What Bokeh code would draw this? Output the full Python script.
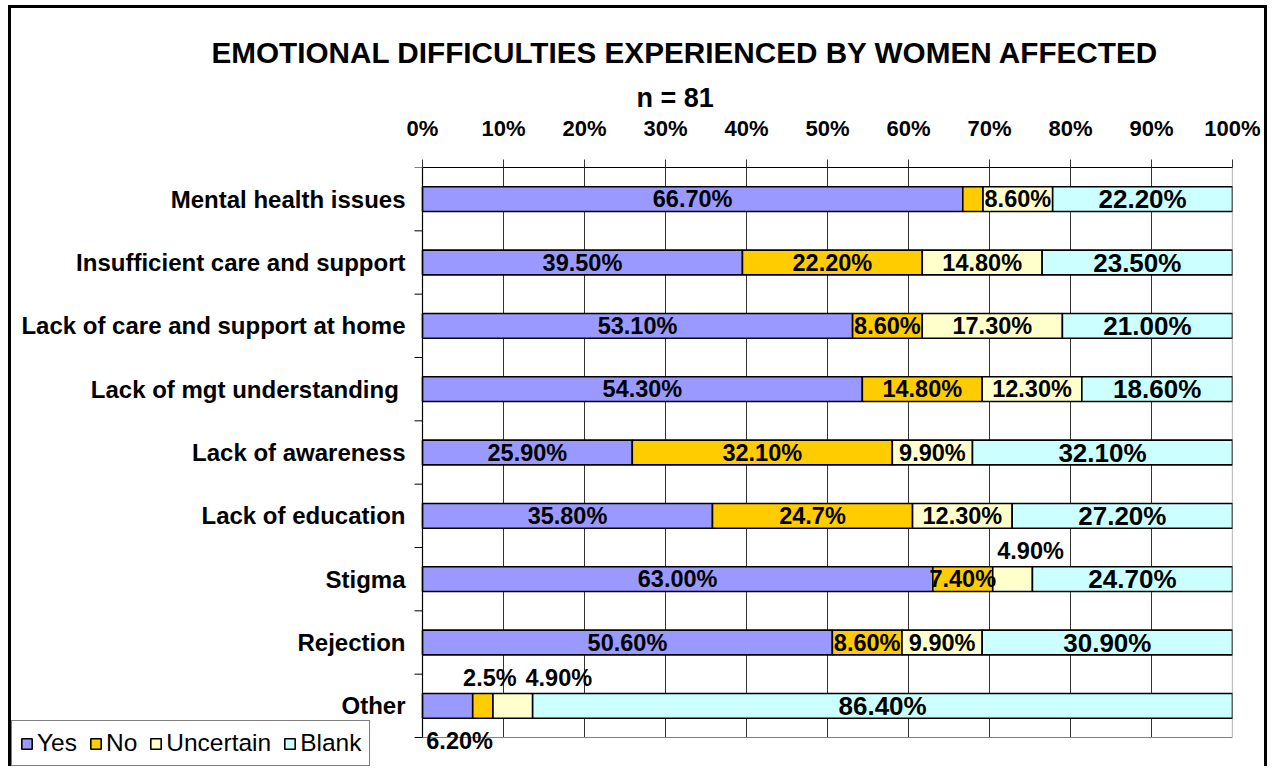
import math
from bokeh.plotting import figure
from bokeh.models import ColumnDataSource, Range1d, FixedTicker, Title, LabelSet, Legend, LegendItem
from bokeh.core.properties import value
from bokeh.embed import file_html
from bokeh.resources import INLINE

# ---------------- data ----------------
categories = ["Mental health issues", "Insufficient care and support",
              "Lack of care and support at home", "Lack of mgt understanding ",
              "Lack of awareness", "Lack of education", "Stigma", "Rejection", "Other"]
series_names = ["Yes", "No", "Uncertain", "Blank"]
yes = [66.7, 39.5, 53.1, 54.3, 25.9, 35.8, 63.0, 50.6, 6.2]
no = [2.5, 22.2, 8.6, 14.8, 32.1, 24.7, 7.4, 8.6, 2.5]
uncertain = [8.6, 14.8, 17.3, 12.3, 9.9, 12.3, 4.9, 9.9, 4.9]
blank = [22.2, 23.5, 21.0, 18.6, 32.1, 27.2, 24.7, 30.9, 86.4]
yes_labels = ["66.70%", "39.50%", "53.10%", "54.30%", "25.90%", "35.80%", "63.00%", "50.60%", "6.20%"]
no_labels = ["", "22.20%", "8.60%", "14.80%", "32.10%", "24.7%", "7.40%", "8.60%", "2.5%"]
uncertain_labels = ["8.60%", "14.80%", "17.30%", "12.30%", "9.90%", "12.30%", "4.90%", "9.90%", "4.90%"]
blank_labels = ["22.20%", "23.50%", "21.00%", "18.60%", "32.10%", "27.20%", "24.70%", "30.90%", "86.40%"]
x_ticks = [0, 10, 20, 30, 40, 50, 60, 70, 80, 90, 100]
x_tick_labels = ["0%", "10%", "20%", "30%", "40%", "50%", "60%", "70%", "80%", "90%", "100%"]
title_text = "EMOTIONAL DIFFICULTIES EXPERIENCED BY WOMEN AFFECTED"
subtitle_text = "n = 81"

# ---------------- styles / layout ----------------
colors = {"Yes": "#9999FF", "No": "#FFCC00", "Uncertain": "#FFFFCC", "Blank": "#CCFFFF"}
FONT = "Liberation Sans"
CANVAS_W, CANVAS_H = 1259, 761
AXIS_GAP_PX = 411        # from canvas left to the 0% line
PLOT_W_PX = 810          # width of the 0..100% area
PLOT_H_PX = 570          # height of the category area
BELOW_PX = 32            # room below the category area (legend, labels)
label_shift = {("Stigma", "Uncertain"): (18, 28),
               ("Other", "Yes"): (12, -35),
               ("Other", "No"): (7, 28),
               ("Other", "Uncertain"): (46, 28)}

n = len(categories)
ys = [n - 1 - i for i in range(n)]
values = {"Yes": yes, "No": no, "Uncertain": uncertain, "Blank": blank}
labels = {"Yes": yes_labels, "No": no_labels, "Uncertain": uncertain_labels, "Blank": blank_labels}

x0 = x_ticks[0]
x1 = x_ticks[-1]
x_start = x0 - (x1 - x0) * AXIS_GAP_PX / PLOT_W_PX
y_lo = -0.5
y_hi = n - 0.5
y_start = y_lo - n * BELOW_PX / PLOT_H_PX

p = figure(width=CANVAS_W, height=CANVAS_H, x_range=Range1d(x_start, x1),
           y_range=Range1d(y_start, y_hi),
           x_axis_location="above", y_axis_location=None,
           output_backend="svg", toolbar_location=None, title_location=None,
           min_border_left=0, min_border_right=38, min_border_top=159, min_border_bottom=0)
p.styles = {"margin": "5px 0px 0px 8px",
            "border-left": "3px solid black", "border-top": "3px solid black",
            "border-right": "3px solid black"}
p.background_fill_color = "white"
p.border_fill_color = "white"
p.outline_line_color = None
p.xgrid.visible = False
p.ygrid.visible = False

# vertical grid lines inside the plot area
inner = x_ticks[1:-1]
p.segment(x0=inner, y0=[y_lo] * len(inner), x1=inner, y1=[y_hi] * len(inner),
          line_color="#333333", line_width=1)
# plot-area edges: grey right and bottom
p.segment(x0=[x1, x0], y0=[y_lo, y_lo], x1=[x1, x1], y1=[y_hi, y_lo],
          line_color="#808080", line_width=1.2)

left = [0.0] * n
legend_items = []
lab_norm = {"x": [], "y": [], "t": [], "dx": [], "dy": []}
lab_blank = {"x": [], "y": [], "t": [], "dx": [], "dy": []}
for s in series_names:
    vals = values[s]
    right = [l + v for l, v in zip(left, vals)]
    src = ColumnDataSource(dict(y=ys, left=left, right=right))
    r = p.hbar(y="y", left="left", right="right", height=0.39, source=src,
               fill_color=colors[s], line_color="black", line_width=1.6)
    legend_items.append(LegendItem(label=s, renderers=[r]))
    for i in range(n):
        if not labels[s][i]:
            continue
        dx, dy = label_shift.get((categories[i], s), (0, 0))
        d = lab_blank if s == "Blank" else lab_norm
        d["x"].append((left[i] + right[i]) / 2)
        d["y"].append(ys[i])
        d["t"].append(labels[s][i])
        d["dx"].append(dx)
        d["dy"].append(dy)
    left = right

for d, size in ((lab_norm, "23.5px"), (lab_blank, "26px")):
    ls = LabelSet(x="x", y="y", text="t", x_offset="dx", y_offset="dy",
                  source=ColumnDataSource(d), text_align="center", text_baseline="middle",
                  text_font=value(FONT), text_font_style="bold", text_font_size=size,
                  text_color="black")
    p.add_layout(ls)

# manual category axis (left)
p.segment(x0=[x0], y0=[y_lo], x1=[x0], y1=[y_hi], line_color="black", line_width=1.2)
bounds = [y - 0.5 for y in range(n + 1)]
p.ray(x=[x0] * len(bounds), y=bounds, length=8, length_units="screen", angle=math.pi,
      line_color="black", line_width=1)
p.text(x=[x0] * n, y=ys, text=categories, x_offset=-17, text_align="right",
       text_baseline="middle", text_font=value(FONT), text_font_style="bold",
       text_font_size="24px", text_color="black")

# top percentage axis
xa = p.xaxis[0]
xa.bounds = (x0, x1)
xa.ticker = FixedTicker(ticks=x_ticks)
xa.major_label_overrides = {t: l for t, l in zip(x_ticks, x_tick_labels)}
xa.major_label_text_font = FONT
xa.major_label_text_font_style = "bold"
xa.major_label_text_font_size = "22px"
xa.major_label_text_color = "black"
xa.major_tick_out = 8
xa.major_tick_in = 0
xa.minor_tick_line_color = None
xa.axis_line_color = "black"
xa.major_tick_line_color = "#333333"
xa.major_label_standoff = 19

# titles (subtitle added first -> closer to the plot)
p.add_layout(Title(text=subtitle_text, align="left", offset=625, text_font=FONT,
                   text_color="black", text_font_style="bold", text_font_size="27px",
                   standoff=0), "above")
p.add_layout(Title(text=title_text, align="left", offset=200, text_font=FONT,
                   text_color="black", text_font_style="bold", text_font_size="29.7px",
                   standoff=23), "above")

legend = Legend(items=legend_items, orientation="horizontal", location=(0, 3),
                label_text_font=FONT, label_text_font_size="24.5px", label_text_color="black",
                glyph_width=13, glyph_height=13, label_standoff=4, spacing=12,
                padding=8, margin=0, border_line_color="black", border_line_width=1,
                background_fill_color="white", background_fill_alpha=1)
p.add_layout(legend, "center")

open("out.html", "w").write(file_html(p, INLINE))
